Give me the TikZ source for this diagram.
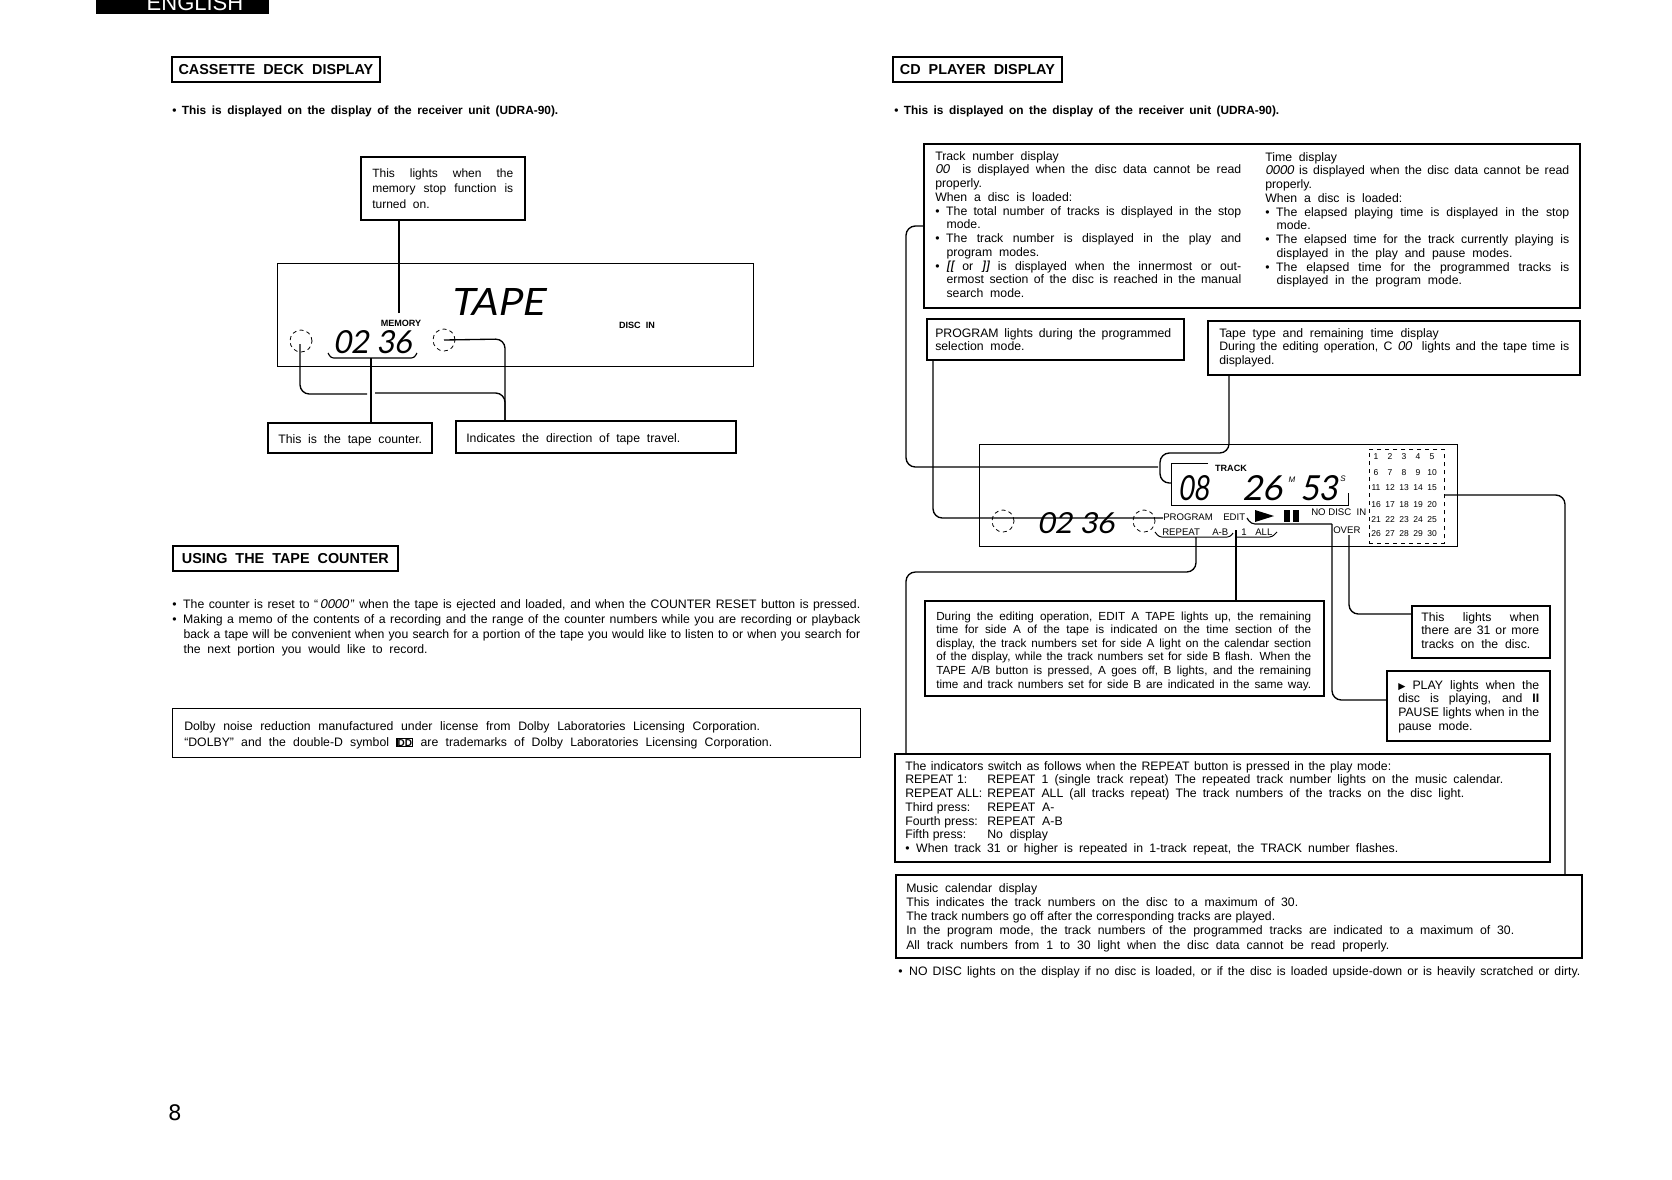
\documentclass[tikz,border=0pt]{standalone}
\usepackage{fontspec}
\usepackage{graphicx}
\setmainfont[WordSpace=2]{Liberation Sans}
\newfontfamily\lcd[FakeSlant=0.18]{Lato}
\newfontfamily\dejavu{DejaVu Sans}
\newfontfamily\lblfont{Liberation Sans}
\newcommand\bodyf{\fontsize{9.2}{10.3}\selectfont}
\newcommand\memf{\fontsize{9}{11.6}\selectfont}
\newcommand\usef{\fontsize{9.2}{11.4}\selectfont}
\newcommand\editf{\fontsize{8.8}{10.2}\selectfont}
\newcommand\musf{\fontsize{9.2}{10.6}\selectfont}
\newcommand\headf{\bfseries\fontsize{10.8}{12}\selectfont}
\newcommand\subf{\bfseries\fontsize{8.9}{10}\selectfont}
\newcommand\lblf{\lblfont\fontsize{7.2}{8}\selectfont}
\newcommand\lblbf{\lblfont\bfseries\fontsize{6.8}{8}\selectfont}
\newcommand\JS{\spaceskip=.5em plus 3em minus .28em\relax}
\newcommand\blk[2]{\vbox{\hsize=#1\dimexpr.75pt\relax #2}}
\newcommand\JL[1]{\hbox to \hsize{\JS\strut #1}}
\newcommand\JI[1]{\hbox to \hsize{\JS\strut\hskip 8.5pt #1}}
\newcommand\WL[2]{\hbox to #1\dimexpr.75pt\relax{\JS\strut #2}}
\newcommand\NL[1]{\hbox{\strut #1}}
\newcommand\NI[1]{\hbox{\strut\hskip 8.5pt #1}}
\newcommand\Bu{\textbullet\hskip 5pt}
\newcommand\BL[1]{\hbox to \hsize{\JS\strut\Bu #1}}
\newcommand\Lb[1]{\makebox[61.5pt][l]{\spaceskip=.3em\relax #1}}
\newcommand\dg[1]{{\lcd #1}}
\newcommand\lcdbox[3]{\resizebox{#1pt}{#2pt}{\lcd #3}}
\tikzset{
  x=0.75pt,y=-0.75pt,
  box/.style={draw,line width=1.3pt,inner sep=0pt,anchor=north west},
  boxthin/.style={draw,line width=1pt,inner sep=0pt,anchor=north west},
  txt/.style={inner sep=0pt,anchor=north west,font=\bodyf,yshift=-1pt},
  head/.style={inner sep=0pt,font=\headf},
  sub/.style={inner sep=0pt,anchor=west,font=\subf},
  lbl/.style={inner sep=0pt,font=\lblf},
  lblb/.style={inner sep=0pt,font=\lblbf},
  lcdtxt/.style={inner sep=0pt,anchor=north west},
  calnum/.style={inner sep=0pt,font=\lblfont\fontsize{6.4}{7}\selectfont},
  conn/.style={line width=1pt,rounded corners=7pt},
  conns/.style={line width=1pt},
  ring/.style={circle,draw,dash pattern=on 3pt off 2.5pt,line width=0.6pt,minimum size=16.5pt,inner sep=0pt},
}
\begin{document}
\begin{tikzpicture}
\useasboundingbox (0,0) rectangle (1672,1179);

% header
\node[fill=black,anchor=north west,inner sep=0pt,minimum width=129.75pt,minimum height=10.5pt] (tab) at (96,0) {};
\node[inner sep=0pt,text=white,font=\fontsize{16.5}{17}\selectfont] (tabt) at (195,3) {ENGLISH};

% --- cassette column
\node[box,minimum width=156pt,minimum height=18.75pt] (cassh) at (171,56) {};
\node[head] (cassht) at (cassh.center) {CASSETTE DECK DISPLAY};
\node[sub] (casss) at (172,111) {\hbox to 386\dimexpr.75pt\relax{\JS\textbullet{} This is displayed on the display of the receiver unit (UDRA-90).}};

\node[box,minimum width=123pt,minimum height=47.25pt] (membox) at (360,156) {};
\node[txt,font=\memf] (membt) at (372,165) {\blk{141}{\JL{This lights when the}\JL{memory stop function is}\NL{turned on.}}};

\node[boxthin,minimum width=357pt,minimum height=77.25pt] (cdisp) at (277,263) {};
\node[lcdtxt] (tapet) at (450,288) {\lcdbox{70.5}{20.25}{TAPE}};
\node[lblb] (memlbl) at (401,323) {MEMORY};
\node[lblb] (disclbl) at (637,325) {DISC\ \ IN};
\node[ring] (lcirc) at (301,341) {};
\node[ring] (rcirc) at (444,340) {};
\node[lcdtxt] (cnt) at (333,330) {\lcdbox{59}{17.25}{02 36}};
\coordinate (brl) at (328,353); \coordinate (brlb) at (331,358); \coordinate (brrb) at (414,358); \coordinate (brr) at (417,353);
\draw[line width=0.85pt,rounded corners=2pt] (brl) -- (brlb) -- (brrb) -- (brr);

\node[box,minimum width=123pt,minimum height=22.5pt] (cntbox) at (267,422) {};
\node[txt,anchor=west] (cntt) at (278,439) {This is the tape counter.};
\node[box,minimum width=210pt,minimum height=24pt] (dirbox) at (455,420) {};
\node[txt,anchor=west] (dirt) at (466,438) {Indicates the direction of tape travel.};

\coordinate (memend) at (399,313);
\draw[conns] (memend) -- (memend |- membox.south);
\coordinate (cntc) at (371,358);
\draw[conns] (cntc) -- (cntc |- cntbox.north);
\coordinate (lcs) at (300,344); \coordinate (lc1) at (300,394); \coordinate (lcg1) at (367,394);
\coordinate (lcg2) at (375,393); \coordinate (dirc1) at (505,393); \coordinate (dirt0) at (505,420);
\draw[conn] (lcs) -- (lc1) -- (lcg1);
\draw[conn] (lcg2) -- (dirc1) -- (dirt0);
\coordinate (rc1) at (505,339);
\draw[conn] (rcirc.center) -- (rc1) -- (dirt0);

% tape counter section
\node[box,minimum width=168.75pt,minimum height=18.75pt] (useh) at (172,545) {};
\node[head] (useht) at (useh.center) {USING THE TAPE COUNTER};
\node[txt,font=\usef] (uset) at (172,596) {\blk{688}{\BL{The counter is reset to “\,\dg{0000}\,” when the tape is ejected and loaded, and when the COUNTER RESET button is pressed.}%
\BL{Making a memo of the contents of a recording and the range of the counter numbers while you are recording or playback}%
\JI{back a tape will be convenient when you search for a portion of the tape you would like to listen to or when you search for}%
\NI{the next portion you would like to record.}}};

\node[boxthin,minimum width=516pt,minimum height=36.75pt] (dolby) at (172,708) {};
\node[txt,font=\fontsize{9.2}{11.7}\selectfont] (dolbyt) at (184,718) {\blk{600}{\WL{576}{Dolby noise reduction manufactured under license from Dolby Laboratories Licensing Corporation.}%
\WL{588}{“DOLBY” and the double-D symbol {\setlength\fboxsep{0pt}\setlength\fboxrule{1pt}\fbox{\bfseries\fontsize{7.5}{8}\selectfont DD}} are trademarks of Dolby Laboratories Licensing Corporation.}}};

\node[inner sep=0pt,font=\dejavu\fontsize{16}{18}\selectfont] (pageno) at (175,1113) {8};

% --- CD column
\node[box,minimum width=126.75pt,minimum height=18.75pt] (cdh) at (892,56) {};
\node[head] (cdht) at (cdh.center) {CD PLAYER DISPLAY};
\node[sub] (cds) at (894,111) {\hbox to 385\dimexpr.75pt\relax{\JS\textbullet{} This is displayed on the display of the receiver unit (UDRA-90).}};

\node[box,minimum width=492pt,minimum height=123pt] (trackbox) at (923,143) {};
\node[txt] (trackt) at (935,149) {\blk{306}{\NL{Track number display}%
\JL{\dg{00}\ \ is displayed when the disc data cannot be read}%
\NL{properly.}\NL{When a disc is loaded:}%
\BL{The total number of tracks is displayed in the stop}%
\NI{mode.}%
\BL{The track number is displayed in the play and}%
\NI{program modes.}%
\BL{\textbf{\dg{[[}} or \textbf{\dg{]]}} is displayed when the innermost or out-}%
\JI{ermost section of the disc is reached in the manual}%
\NI{search mode.}}};
\node[txt] (timet) at (1265,150) {\blk{304}{\NL{Time display}%
\JL{\dg{0000} is displayed when the disc data cannot be read}%
\NL{properly.}\NL{When a disc is loaded:}%
\BL{The elapsed playing time is displayed in the stop}%
\NI{mode.}%
\BL{The elapsed time for the track currently playing is}%
\NI{displayed in the play and pause modes.}%
\BL{The elapsed time for the programmed tracks is}%
\NI{displayed in the program mode.}}};

\node[box,minimum width=192.75pt,minimum height=30.75pt] (progbox) at (926,318) {};
\node[txt] (progt) at (935,326) {\blk{236}{\JL{PROGRAM lights during the programmed}\NL{selection mode.}}};
\node[box,minimum width=279pt,minimum height=40.5pt] (tapebox) at (1207,320) {};
\node[txt] (tapet2) at (1219,326) {\blk{350}{\NL{Tape type and remaining time display}%
\JL{During the editing operation, C \dg{00}\ \ lights and the tape time is}\NL{displayed.}}};

% CD display
\node[boxthin,minimum width=358.5pt,minimum height=76.5pt] (ddisp) at (979,444) {};
\node[draw,dashed,line width=0.7pt,inner sep=0pt,anchor=north west,minimum width=56.25pt,minimum height=70.5pt] (calbox) at (1369,449) {};
\foreach \r/\yy in {0/457,1/473,2/488,3/505,4/520,5/534}
  \foreach \c/\xx in {1/1376,2/1390,3/1404,4/1418,5/1432} {
    \pgfmathtruncatemacro\n{\r*5+\c}
    \node[calnum] (cal\n) at (\xx,\yy) {\n};
  }
\node[lblb] (tracklbl) at (1231,468) {TRACK};
\coordinate (tb1) at (1208,463); \coordinate (tb2) at (1171,463); \coordinate (tb3) at (1171,505); \coordinate (tb4) at (1348,505); \coordinate (tb5) at (1348,493);
\draw[line width=0.6pt] (tb1) -- (tb2) -- (tb3) -- (tb4) -- (tb5);
\node[lcdtxt] (d08) at (1178,475) {\lcdbox{23}{18.75}{08}};
\node[lcdtxt] (d26) at (1242,475) {\lcdbox{30}{18.75}{26}};
\node[lbl,font=\lblfont\itshape\fontsize{6}{7}\selectfont] (dM) at (1292,480) {M};
\node[lcdtxt] (d53) at (1300,475) {\lcdbox{28}{18.75}{53}};
\node[lbl,font=\lblfont\itshape\fontsize{6}{7}\selectfont] (dS) at (1343,479) {S};
\node[lbl,anchor=west] (lprog) at (1163,517) {PROGRAM};
\node[lbl,anchor=west] (ledit) at (1223,517) {EDIT};
\node[lbl,anchor=west] (lno) at (1311,512) {NO DISC\ \ IN};
\node[lbl,anchor=west] (lrep) at (1162,532) {REPEAT};
\node[lbl,anchor=west] (lab) at (1212,532) {A-B};
\node[lbl,anchor=west] (lone) at (1241,532) {1};
\node[lbl,anchor=west] (lall) at (1255,532) {ALL};
\node[lbl,anchor=west] (lover) at (1333,530) {OVER};
\coordinate (pl1) at (1255,510); \coordinate (pl2) at (1255,522); \coordinate (pl3) at (1274,516);
\fill (pl1) -- (pl2) -- (pl3) -- cycle;
\fill (1284,510) rectangle (1290,522);
\fill (1293,510) rectangle (1299,522);
\node[ring] (dl) at (1003,521) {};
\node[ring] (dr) at (1144,521) {};
\node[lcdtxt] (dcnt) at (1037,512) {\lcdbox{58}{15.75}{02 36}};
\coordinate (rb1) at (1155,532); \coordinate (rb2) at (1159,537); \coordinate (rb3) at (1230,537); \coordinate (rb4) at (1233,533);
\draw[line width=0.75pt,rounded corners=2pt] (rb1) -- (rb2) -- (rb3) -- (rb4);
\coordinate (ab1) at (1235,537); \coordinate (ab2) at (1272,537); \coordinate (ab3) at (1277,532);
\draw[line width=0.75pt,rounded corners=2pt] (ab1) -- (ab2) -- (ab3);

% CD lower boxes
\node[box,minimum width=299.25pt,minimum height=71.25pt] (editbox) at (924,600) {};
\node[txt,font=\editf] (editt) at (936,609) {\blk{375}{\JL{During the editing operation, EDIT A TAPE lights up, the remaining}%
\JL{time for side A of the tape is indicated on the time section of the}%
\JL{display, the track numbers set for side A light on the calendar section}%
\JL{of the display, while the track numbers set for side B flash. When the}%
\JL{TAPE A/B button is pressed, A goes off, B lights, and the remaining}%
\JL{time and track numbers set for side B are indicated in the same way.}}};
\node[box,minimum width=103.5pt,minimum height=39pt] (overbox) at (1411,605) {};
\node[txt] (overt) at (1421,610) {\blk{118}{\JL{This lights when}\JL{there are 31 or more}\NL{tracks on the disc.}}};
\node[box,minimum width=122.25pt,minimum height=52.5pt] (playbox) at (1386,670) {};
\node[txt] (playt) at (1398,678) {\blk{141}{\JL{{\dejavu\fontsize{7}{8}\selectfont ▶} PLAY lights when the}%
\JL{disc is playing, and \textbf{II}}%
\JL{PAUSE lights when in the}%
\NL{pause mode.}}};
\node[box,minimum width=491.25pt,minimum height=81pt] (indbox) at (894,753) {};
\node[txt] (indt) at (905,759) {\blk{620}{\WL{486}{The indicators switch as follows when the REPEAT button is pressed in the play mode:}%
\WL{598}{\Lb{REPEAT 1:}REPEAT 1 (single track repeat) The repeated track number lights on the music calendar.}%
\WL{559}{\Lb{REPEAT ALL:}REPEAT ALL (all tracks repeat) The track numbers of the tracks on the disc light.}%
\NL{\Lb{Third press:}REPEAT A-}%
\NL{\Lb{Fourth press:}REPEAT A-B}%
\NL{\Lb{Fifth press:}No display}%
\WL{493}{\Bu When track 31 or higher is repeated in 1-track repeat, the TRACK number flashes.}}};
\node[box,minimum width=514.5pt,minimum height=62.25pt] (musbox) at (895,874) {};
\node[txt,font=\musf] (must) at (906,881) {\blk{640}{\NL{Music calendar display}%
\WL{392}{This indicates the track numbers on the disc to a maximum of 30.}%
\WL{369}{The track numbers go off after the corresponding tracks are played.}%
\WL{608}{In the program mode, the track numbers of the programmed tracks are indicated to a maximum of 30.}%
\WL{483}{All track numbers from 1 to 30 light when the disc data cannot be read properly.}}};
\node[txt,anchor=west] (not) at (898,971) {\WL{682}{\Bu NO DISC lights on the display if no disc is loaded, or if the disc is loaded upside-down or is heavily scratched or dirty.}};

% CD connectors
\coordinate (ta) at (923,226); \coordinate (ta1) at (906,226); \coordinate (ta2) at (906,467); \coordinate (ta3) at (1158,467);
\draw[conn] (ta) -- (ta1) -- (ta2) -- (ta3);
\coordinate (pa) at (933,359); \coordinate (pa1) at (933,518); \coordinate (pa2) at (1163,518);
\draw[conn] (pa) -- (pa1) -- (pa2);
\coordinate (tp) at (1229,374); \coordinate (tp1) at (1229,453); \coordinate (tp2) at (1160,453); \coordinate (tp3) at (1160,483); \coordinate (tp4) at (1171,483);
\draw[conn] (tp) -- (tp1) -- (tp2) -- (tp3) -- (tp4);
\coordinate (re) at (1196,537); \coordinate (re1) at (1196,572); \coordinate (re2) at (906,572); \coordinate (re3) at (906,753);
\draw[conn] (re) -- (re1) -- (re2) -- (re3);
\coordinate (ed) at (1236,530);
\draw[conns] (ed) -- (ed |- editbox.north);
\coordinate (pb0) at (1247,518); \coordinate (pb1) at (1251,524); \coordinate (pb2) at (1332,524); \coordinate (pb3) at (1332,700);
\draw[line width=0.85pt,rounded corners=3pt] (pb0) -- (pb1) -- (pb2);
\draw[conn] (pb2) -- (pb3) -- (pb3 -| playbox.west);
\coordinate (ov) at (1349,535); \coordinate (ov1) at (1349,614);
\draw[conn] (ov) -- (ov1) -- (ov1 -| overbox.west);
\coordinate (ca) at (1445,495); \coordinate (ca1) at (1565,495);
\draw[conn] (ca) -- (ca1) -- (ca1 |- musbox.north);
\end{tikzpicture}
\end{document}
